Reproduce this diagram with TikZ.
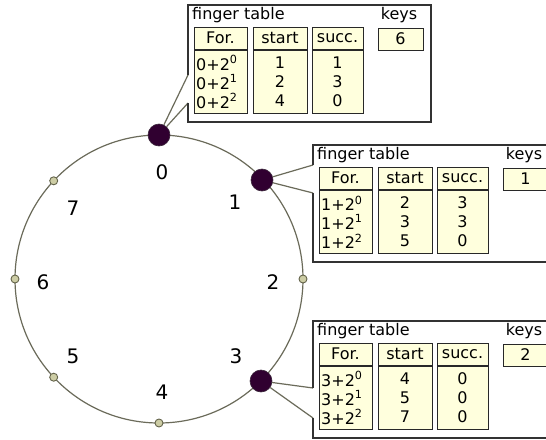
\documentclass[tikz,border=0pt]{standalone}
\usepackage{fontspec}
\setmainfont{DejaVu Sans}
\definecolor{ringcol}{RGB}{107,107,90}
\definecolor{bigfill}{RGB}{48,0,48}
\definecolor{bigdraw}{RGB}{60,40,60}
\definecolor{smallfill}{RGB}{205,205,165}
\definecolor{smalldraw}{RGB}{100,100,75}
\definecolor{boxcol}{RGB}{50,50,50}
\definecolor{cellcol}{RGB}{40,40,40}
\definecolor{cellfill}{RGB}{255,255,221}
\tikzset{
  ring/.style={draw=ringcol, line width=1.2pt},
  bignode/.style={circle, fill=bigfill, draw=bigdraw, line width=0.6pt, minimum size=22pt, inner sep=0pt},
  smallnode/.style={circle, fill=smallfill, draw=smalldraw, line width=0.9pt, minimum size=8pt, inner sep=0pt},
  lbl/.style={font=\fontsize{20}{24}\selectfont, inner sep=0pt},
  txt/.style={font=\fontsize{16}{19}\selectfont, inner sep=0pt},
  callout/.style={draw=boxcol, line width=1.5pt, line join=miter},
  wedge/.style={draw=ringcol, line width=1.2pt},
  cell/.style={draw=cellcol, fill=cellfill, line width=1pt}
}
% frame: prefix, L, T, node, notch top y, notch bottom y
\newcommand\ftframe[6]{%
  \coordinate (#1a) at (#2,#5);
  \coordinate (#1b) at (#2,#6);
  \draw[wedge] (#1a) -- (#4);
  \draw[wedge] (#1b) -- (#4);
  \draw[callout] (#1a) -- (#2,#3) -- (#2+243,#3) -- (#2+243,#3+117) -- (#2,#3+117) -- (#1b);
}
% content: prefix, L, T, base, keys, rows k/start/succ
\newcommand\ftcontent[6]{%
  \node[txt, anchor=west] (#1title) at (#2+4,#3+10) {finger table};
  \node[txt] (#1keyst) at (#2+211,#3+10) {keys};
  \draw[cell] (#2+6,#3+22) rectangle (#2+59,#3+44);
  \draw[cell] (#2+6,#3+45) rectangle (#2+59,#3+108);
  \draw[cell] (#2+65,#3+22) rectangle (#2+119,#3+44);
  \draw[cell] (#2+65,#3+45) rectangle (#2+119,#3+108);
  \draw[cell] (#2+124,#3+22) rectangle (#2+175,#3+44);
  \draw[cell] (#2+124,#3+45) rectangle (#2+175,#3+108);
  \draw[cell] (#2+190,#3+23) rectangle (#2+235,#3+45);
  \node[txt] (#1hf) at (#2+32.5,#3+33) {For.};
  \node[txt] (#1hs) at (#2+92,#3+33) {start};
  \node[txt] (#1hu) at (#2+149.5,#3+33) {succ.};
  \node[txt] (#1kv) at (#2+212.5,#3+34) {#5};
  \foreach \k/\s/\u in {#6} {
    \node[txt, anchor=west] (#1f\k) at (#2+8,#3+58+19*\k) {#4+2\textsuperscript{\k}};
    \node[txt] (#1s\k) at (#2+92,#3+58+19*\k) {\s};
    \node[txt] (#1u\k) at (#2+149.5,#3+58+19*\k) {\u};
  }
}
\begin{document}
\begin{tikzpicture}[x=1pt,y=-1pt]
\useasboundingbox (0,0) rectangle (546,439);
\clip (0,0) rectangle (546,439);
\fill[white] (0,0) rectangle (546,439);
% ring
\draw[ring] (159,279) circle[radius=144];
% nodes
\node[bignode] (n0) at (159,135) {};
\node[bignode] (n1) at (262,180) {};
\node[smallnode] (s2) at (303,279) {};
\node[bignode] (n3) at (261,381) {};
\node[smallnode] (s4) at (159,423) {};
\node[smallnode] (s5) at (53.7,377.2) {};
\node[smallnode] (s6) at (15,279) {};
\node[smallnode] (s7) at (53.7,180.8) {};
% labels
\node[lbl] (l0) at (162,172) {0};
\node[lbl] (l1) at (235,202) {1};
\node[lbl] (l2) at (273,282) {2};
\node[lbl] (l3) at (236,356) {3};
\node[lbl] (l4) at (162,392) {4};
\node[lbl] (l5) at (73,356) {5};
\node[lbl] (l6) at (43,282) {6};
\node[lbl] (l7) at (73,208) {7};
% finger tables
\ftframe{A}{188}{5}{n0}{75}{103}
\ftcontent{A}{188}{5}{0}{6}{0/1/1,1/2/3,2/4/0}
\ftframe{B}{313}{145}{n1}{165}{193}
\ftcontent{B}{313}{145}{1}{1}{0/2/3,1/3/3,2/5/0}
\ftframe{C}{313}{321}{n3}{388}{418}
\ftcontent{C}{313}{321}{3}{2}{0/4/0,1/5/0,2/7/0}
\end{tikzpicture}
\end{document}
